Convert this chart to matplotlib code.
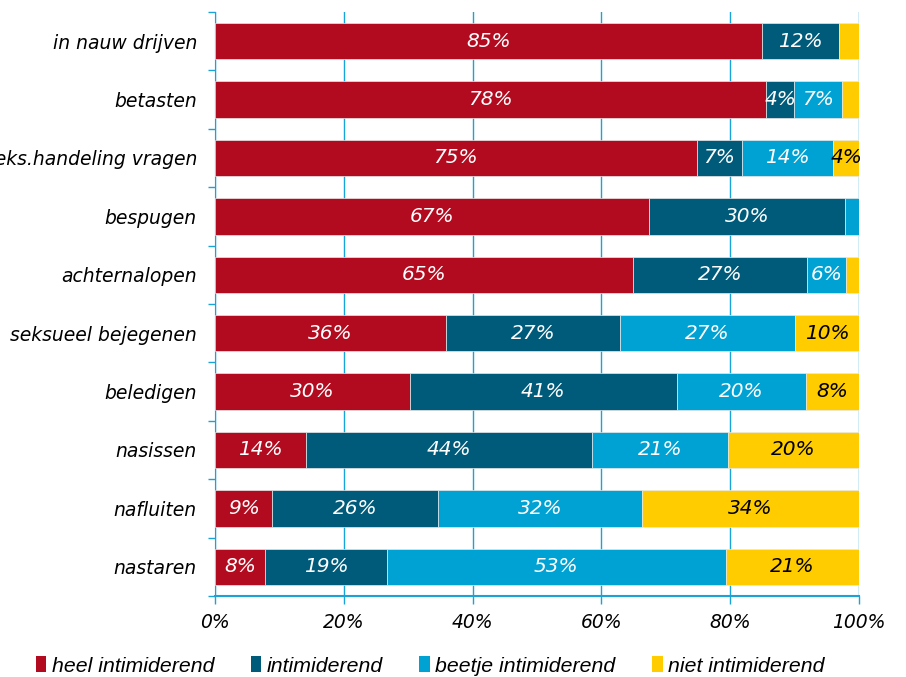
import numpy as np
import matplotlib
matplotlib.use("Agg")
import matplotlib.pyplot as plt
from matplotlib.patches import Patch

# data (percent per category)
categories = ["in nauw drijven", "betasten", "seks.handeling vragen", "bespugen",
              "achternalopen", "seksueel bejegenen", "beledigen", "nasissen",
              "nafluiten", "nastaren"]
heel = [84.9, 85.6, 74.8, 67.4, 64.9, 35.9, 30.3, 14.1, 8.9, 7.8]
intim = [12.0, 4.3, 7.0, 30.4, 27.0, 27.0, 41.4, 44.4, 25.7, 18.9]
beetje = [0.0, 7.4, 14.2, 2.2, 6.1, 27.2, 20.1, 21.2, 31.7, 52.6]
niet = [3.1, 2.7, 4.0, 0.0, 2.0, 9.9, 8.2, 20.3, 33.7, 20.7]
series_names = ["heel intimiderend", "intimiderend", "beetje intimiderend", "niet intimiderend"]
# the original chart prints 78% on the betasten bar
label_override = {(1, 0): "78%"}
xticks = [0, 20, 40, 60, 80, 100]

colors = ["#B20A1E", "#005B7A", "#00A1D3", "#FFCC00"]
text_colors = ["white", "white", "white", "black"]
grid_blue = "#1AA3D6"

plt.rcParams["font.family"] = ["DejaVu Sans"]

fig = plt.figure(figsize=(9.06, 6.77), dpi=100)
ax = fig.add_axes([215 / 906, 1 - 596 / 677, 644 / 906, 584 / 677])

y = np.arange(len(categories))
left = np.zeros(len(categories))
for s, vals in enumerate([heel, intim, beetje, niet]):
    vals = np.array(vals)
    ax.barh(y, vals, left=left, height=0.62, color=colors[s],
            edgecolor="#e8e8e8", linewidth=0.5, zorder=3)
    for i, v in enumerate(vals):
        if v >= 4:
            txt = label_override.get((i, s), f"{round(v)}%")
            ax.text(left[i] + v / 2, i, txt, ha="center", va="center",
                    color=text_colors[s], fontsize=14.5, style="italic", zorder=4)
    left += vals

ax.set_xlim(0, 100)
ax.set_ylim(len(categories) - 0.5, -0.5)

ax.set_xticks(xticks)
ax.set_xticklabels([f"{t}%" for t in xticks], fontsize=13.5, style="italic")
ax.tick_params(axis="x", length=6, color=grid_blue, width=1, pad=6)
ax.xaxis.grid(True, color=grid_blue, linewidth=1, zorder=0)
ax.set_axisbelow(True)

ax.set_yticks(y)
ax.set_yticklabels(categories, fontsize=13.5, style="italic")
ax.set_yticks(np.arange(-0.5, len(categories)), minor=True)
ax.tick_params(axis="y", which="major", length=0, pad=13)
ax.tick_params(axis="y", which="minor", length=5, color=grid_blue, width=1)

for side in ["top", "right"]:
    ax.spines[side].set_visible(False)
ax.spines["left"].set_color(grid_blue)
ax.spines["bottom"].set_color(grid_blue)
ax.spines["bottom"].set_linewidth(1.5)

handles = [Patch(facecolor=c, edgecolor="none") for c in colors]
leg = fig.legend(handles, series_names, loc="center left", bbox_to_anchor=(0.03, 1 - 666 / 677),
                 ncol=4, frameon=False, handlelength=0.5, handleheight=0.75,
                 handletextpad=0.25, columnspacing=1.72, borderaxespad=0,
                 prop={"family": ["Liberation Sans", "DejaVu Sans"],
                       "size": 15.3, "style": "italic"})

fig.savefig("out.png", dpi=100)
